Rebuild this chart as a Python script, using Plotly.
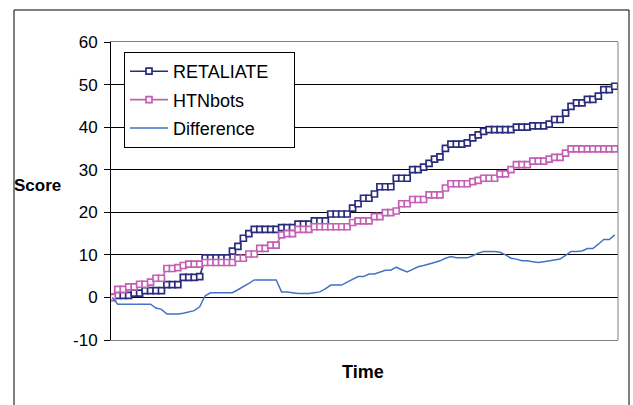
import plotly.graph_objects as go

time_idx = list(range(93))

retaliate = [
    0, 0.5, 0.5, 0.5, 1, 1, 1.6, 1.6, 1.6, 1.6,
    3, 3, 3, 4.7, 4.7, 4.7, 4.9, 9.3, 9.3, 9.3,
    9.3, 9.3, 10.9, 12, 13.9, 15, 16, 16, 16, 16,
    16, 16.4, 16.4, 16.4, 17.2, 17.2, 17.2, 18, 18, 18,
    19.6, 19.6, 19.6, 19.6, 21, 22, 23.3, 23.3, 24.3, 26,
    26, 26, 28, 28, 28, 30, 30, 30.6, 31.5, 32.5,
    33, 35, 36, 36, 36, 36.3, 37.5, 38.2, 39, 39.4,
    39.4, 39.4, 39.4, 39.4, 40, 40, 40, 40.3, 40.3, 40.3,
    40.7, 41.8, 41.8, 43.3, 44.9, 45.7, 45.7, 46.5, 46.5, 47.3,
    48.8, 48.8, 49.6,
]

htnbots = [
    0, 1.9, 1.9, 2.5, 2.5, 3.1, 3.1, 3.6, 4.5, 4.5,
    6.8, 6.8, 7, 7.5, 7.8, 7.8, 7.8, 8.2, 8.2, 8.2,
    8.2, 8.2, 8.2, 9.2, 9.2, 10.2, 10.2, 11.5, 11.5, 12.3,
    12.3, 14.7, 15, 15, 16, 16, 16, 16.6, 16.6, 16.6,
    16.6, 16.6, 16.6, 16.6, 17.6, 18, 18, 18, 19, 19,
    19.9, 19.9, 20.3, 22, 22, 23, 23, 23, 24.1, 24.1,
    24.1, 25.7, 26.7, 26.7, 26.7, 26.7, 27.2, 27.5, 28, 28,
    28, 29, 29, 30, 31.2, 31.2, 31.2, 32, 32, 32,
    32.5, 32.9, 32.9, 33.9, 34.9, 34.9, 34.9, 34.9, 34.9, 34.9,
    34.9, 34.9, 34.9,
]

difference = [
    0, -1.6, -1.6, -1.6, -1.6, -1.6, -1.6, -1.6, -2.5, -2.8,
    -3.9, -3.9, -3.9, -3.7, -3.4, -3.1, -2.2, 0.4, 1.1, 1.1,
    1.1, 1.1, 1.1, 1.8, 2.5, 3.3, 4.1, 4.1, 4.1, 4.1,
    4.1, 1.3, 1.3, 1.1, 0.9, 0.9, 0.9, 1.1, 1.3, 2.0,
    2.9, 2.9, 2.9, 3.6, 4.2, 4.9, 4.9, 5.5, 5.5, 6,
    6.4, 6.4, 7.1, 6.5, 6, 6.6, 7.2, 7.5, 7.8, 8.2,
    8.6, 9.2, 9.6, 9.3, 9.3, 9.3, 9.8, 10.4, 10.8, 10.8,
    10.8, 10.6, 10, 9.2, 9, 8.6, 8.6, 8.4, 8.2, 8.4,
    8.6, 8.7, 9, 9.9, 10.8, 10.8, 10.9, 11.5, 11.5, 12.5,
    13.6, 13.6, 14.7,
]

y_ticks = [-10, 0, 10, 20, 30, 40, 50, 60]

FONT = "Liberation Sans, Arial, sans-serif"
NAVY = "#2B2B7E"
PINK = "#C45FB3"
BLUE = "#4472C4"

L, R, T, B = 111, 618, 42, 340
PW, PH = R - L, B - T


def px_x(p):
    return (p - L) / PW


def px_y(p):
    return (B - p) / PH


PAD = "\u00a0" * 4

fig = go.Figure()
fig.add_trace(go.Scatter(
    x=time_idx, y=retaliate, name="RETALIATE" + PAD, mode="lines+markers",
    line=dict(color=NAVY, width=1.6),
    marker=dict(symbol="square", size=6, color="white", line=dict(color=NAVY, width=1.7)),
    legendgroup="a",
))
fig.add_trace(go.Scatter(
    x=time_idx, y=htnbots, name="HTNbots", mode="lines+markers",
    line=dict(color=PINK, width=1.6),
    marker=dict(symbol="square", size=6, color="white", line=dict(color=PINK, width=1.7)),
    legendgroup="b",
))
fig.add_trace(go.Scatter(
    x=time_idx, y=difference, name="Difference", mode="lines",
    line=dict(color=BLUE, width=1.5),
    legendgroup="c",
))

frame = dict(color="black", width=1)
fig.update_layout(
    width=633, height=405,
    margin=dict(l=L, r=633 - R, t=T, b=405 - B),
    paper_bgcolor="white", plot_bgcolor="white",
    font=dict(family=FONT, size=17, color="black"),
    showlegend=True,
    legend=dict(
        x=px_x(124), y=px_y(52), xanchor="left", yanchor="top",
        bgcolor="white", bordercolor="black", borderwidth=1,
        font=dict(family=FONT, size=18, color="black"),
        tracegroupgap=2, traceorder="grouped",
        itemwidth=38,
    ),
    xaxis=dict(
        range=[-0.24, 92.6], showgrid=False, zeroline=False,
        showticklabels=False, ticks="",
        showline=True, linecolor="#808080", linewidth=1, mirror=True,
    ),
    yaxis=dict(
        range=[-10, 60], tickvals=y_ticks, ticktext=[str(v) for v in y_ticks],
        showgrid=True, gridcolor="black", gridwidth=1, zeroline=False,
        ticks="outside", ticklen=6, tickcolor="black", tickwidth=1,
        showline=True, linecolor="black", linewidth=1,
        tickfont=dict(family=FONT, size=17, color="black"),
        ticklabelstandoff=3,
    ),
    shapes=[
        dict(type="line", xref="paper", yref="paper", x0=1, x1=1, y0=0, y1=1,
             line=dict(color="#808080", width=1)),
        dict(type="line", xref="paper", yref="paper",
             x0=px_x(14), x1=px_x(629), y0=px_y(10), y1=px_y(10), line=frame),
        dict(type="line", xref="paper", yref="paper",
             x0=px_x(14), x1=px_x(14), y0=px_y(10), y1=px_y(420), line=frame),
        dict(type="line", xref="paper", yref="paper",
             x0=px_x(629), x1=px_x(629), y0=px_y(10), y1=px_y(420), line=frame),
    ],
    annotations=[
        dict(text="<b>Score</b>", xref="paper", yref="paper",
             x=px_x(12), y=px_y(185), xanchor="left", yanchor="middle",
             showarrow=False, font=dict(family=FONT, size=17, color="black")),
        dict(text="<b>Time</b>", xref="paper", yref="paper",
             x=px_x(363), y=px_y(372), xanchor="center", yanchor="middle",
             showarrow=False, font=dict(family=FONT, size=18, color="black")),
    ],
)

fig.write_html("out.html", config={"displayModeBar": False},
               post_script="document.body.style.margin='0';")
